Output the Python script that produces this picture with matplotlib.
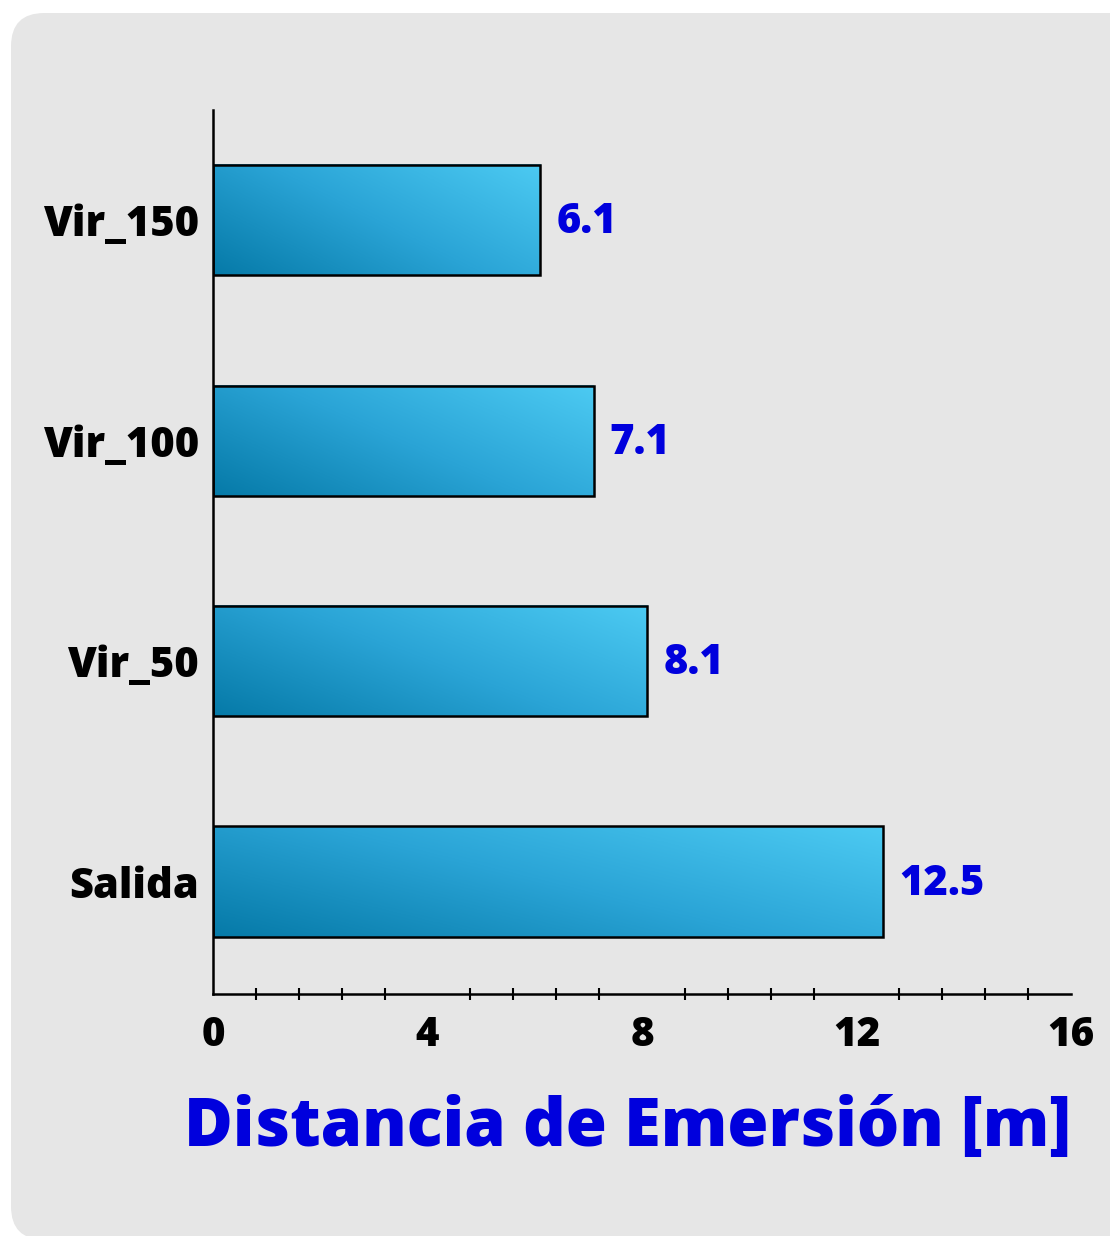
import numpy as np
import matplotlib
matplotlib.use("Agg")
import matplotlib.pyplot as plt
from matplotlib.patches import FancyBboxPatch
from matplotlib.colors import LinearSegmentedColormap
from matplotlib.ticker import MultipleLocator

# data
categories = ["Salida", "Vir_50", "Vir_100", "Vir_150"]
values = [12.5, 8.1, 7.1, 6.1]
x_ticks = [0, 4, 8, 12, 16]
x_label = "Distancia de Emersión [m]"

plt.rcParams['font.family'] = ['Open Sans', 'DejaVu Sans']
WEIGHT = 800

fig = plt.figure(figsize=(11.1, 12.36), dpi=100)
fig.patch.set_facecolor("white")

# rounded grey panel behind everything
panel = FancyBboxPatch((11 / 1110, -0.003), 1.2, 1 - 13 / 1236 + 0.003,
                       boxstyle="round,pad=0,rounding_size=0.03",
                       transform=fig.transFigure, facecolor="#e6e6e6",
                       edgecolor="none", zorder=-10,
                       mutation_aspect=1110 / 1236)
fig.patches.append(panel)

ax = fig.add_axes([213 / 1110, 1 - 994 / 1236, 858 / 1110, 884 / 1236])
ax.set_facecolor("none")

cmap = LinearSegmentedColormap.from_list("bar", ["#067aa8", "#2aa4d6", "#4ccaf2"])
gx, gy = np.meshgrid(np.linspace(0, 1, 200), np.linspace(0, 1, 60))
grad = (gx * 0.6 + gy * 0.4)

bar_h = 0.5
ypos = np.arange(len(categories))
for y, v in zip(ypos, values):
    ax.imshow(grad, cmap=cmap, extent=(0, v, y - bar_h / 2, y + bar_h / 2),
              origin="lower", aspect="auto", interpolation="bilinear", zorder=2)
    ax.barh(y, v, height=bar_h, facecolor="none", edgecolor="black",
            linewidth=1.8, zorder=3)
    ax.text(v + 0.3, y - 0.01, f"{v:.1f}", color="#0000dd", fontsize=30,
            fontweight=WEIGHT, ha="left", va="center")

ax.set_xlim(0, 16)
ax.set_ylim(-0.51, 3.5)
ax.set_yticks(ypos)
ax.set_yticklabels(categories, fontsize=30, fontweight=WEIGHT)
ax.set_xticks(x_ticks)
ax.set_xticklabels([str(t) for t in x_ticks], fontsize=29, fontweight=WEIGHT)
ax.xaxis.set_minor_locator(MultipleLocator(0.8))
ax.tick_params(axis="x", which="major", length=0, pad=15)
ax.tick_params(axis="x", which="minor", length=9, width=1.5, direction="inout")
ax.tick_params(axis="y", length=0, pad=10)

for side in ("top", "right"):
    ax.spines[side].set_visible(False)
for side in ("left", "bottom"):
    ax.spines[side].set_linewidth(1.8)

ax.set_xlabel(x_label, fontsize=48, fontweight=WEIGHT, color="#0000dd",
              loc="right", labelpad=28)

fig.savefig("out.png", dpi=100)
